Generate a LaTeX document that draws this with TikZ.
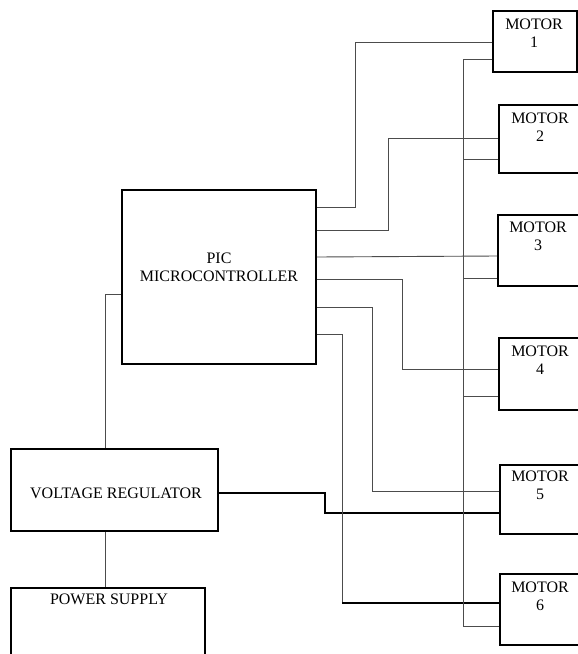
\documentclass[tikz,border=0pt]{standalone}
\usepackage{fontspec}
\setmainfont{Liberation Serif}
\begin{document}
\begin{tikzpicture}[x=1pt,y=-1pt,
  box/.style={draw, line width=1.8pt, rectangle, inner sep=0pt, anchor=north west},
  txt/.style={font=\fontsize{16}{18}\selectfont, align=center, inner sep=0pt},
  wire/.style={draw=black!70, line width=0.9pt},
  bwire/.style={draw=black, line width=1.5pt}]
\clip (0,0) rectangle (578,654);
\fill[white] (0,0) rectangle (578,654);
% boxes
\node[box, minimum width=84pt, minimum height=61pt] (m1) at (492,10) {};
\node[box, minimum width=84pt, minimum height=68pt] (m2) at (498,104) {};
\node[box, minimum width=84pt, minimum height=71pt] (m3) at (497,214) {};
\node[box, minimum width=84pt, minimum height=72pt] (m4) at (498,337) {};
\node[box, minimum width=84pt, minimum height=69pt] (m5) at (499,464) {};
\node[box, minimum width=84pt, minimum height=71pt] (m6) at (499,573) {};
\node[box, minimum width=194pt, minimum height=174pt] (pic) at (121,189) {};
\node[box, minimum width=207pt, minimum height=82pt] (vr) at (10,448) {};
\node[box, minimum width=194pt, minimum height=80pt] (ps) at (10,587) {};
% texts
\node[txt] (t1) at (534,33) {MOTOR\\1};
\node[txt] (t2) at (540,127) {MOTOR\\2};
\node[txt] (t3) at (538,236) {MOTOR\\3};
\node[txt] (t4) at (540,360) {MOTOR\\4};
\node[txt] (t5) at (540,485) {MOTOR\\5};
\node[txt] (t6) at (540,596) {MOTOR\\6};
\node[txt] (tp) at (219,267) {PIC\\MICROCONTROLLER};
\node[txt] (tv) at (116,493) {VOLTAGE REGULATOR};
\node[txt] (ts) at (109,599) {POWER SUPPLY};
% power wiring
\draw[wire] (pic.west |- 0,294) -| (vr.north -| 105,0);
\draw[wire] (vr.south -| 105,0) -- (ps.north -| 105,0);
\draw[bwire] (vr.east |- 0,493) -| (325,513) -- (m5.west |- 0,513);
% PIC outputs
\draw[wire] (pic.east |- 0,207) -| (355,42) -- (m1.west |- 0,42);
\draw[wire] (pic.east |- 0,230) -| (388,138) -- (m2.west |- 0,138);
\draw[wire] (pic.east |- 0,257) -- (m3.west |- 0,256);
\draw[wire] (pic.east |- 0,279) -| (402,369) -- (m4.west |- 0,369);
\draw[wire] (pic.east |- 0,307) -| (372,491) -- (m5.west |- 0,491);
\draw[wire] (pic.east |- 0,334) -| (342,603);
\draw[bwire] (342,603) -- (m6.west |- 0,603);
% common return bus
\draw[wire] (m1.west |- 0,59) -| (463,626) -- (m6.west |- 0,626);
\draw[wire] (463,159) -- (m2.west |- 0,159);
\draw[wire] (463,278) -- (m3.west |- 0,278);
\draw[wire] (463,396) -- (m4.west |- 0,396);
\end{tikzpicture}
\end{document}
